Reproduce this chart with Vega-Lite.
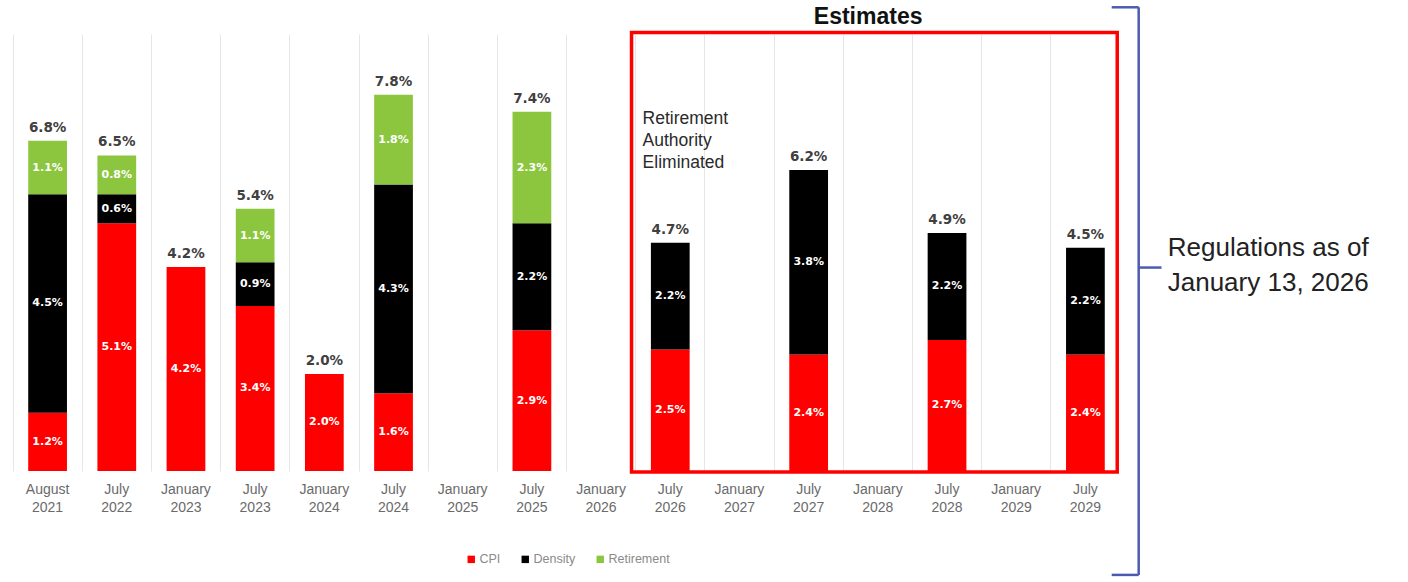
{
  "$schema": "https://vega.github.io/schema/vega-lite/v6.json",
  "autosize": {"type": "none"},
  "width": 1107,
  "height": 437,
  "padding": {"left": 13, "top": 34, "right": 288, "bottom": 111},
  "background": "white",
  "config": {"view": {"stroke": null}, "font": "Liberation Sans"},
  "datasets": {
    "bars": [
      {"period": "August 2021", "series": "CPI", "value": 1.2, "label": "1.2%", "ord": 1},
      {"period": "August 2021", "series": "Density", "value": 4.5, "label": "4.5%", "ord": 2},
      {"period": "August 2021", "series": "Retirement", "value": 1.1, "label": "1.1%", "ord": 3},
      {"period": "July 2022", "series": "CPI", "value": 5.1, "label": "5.1%", "ord": 1},
      {"period": "July 2022", "series": "Density", "value": 0.6, "label": "0.6%", "ord": 2},
      {"period": "July 2022", "series": "Retirement", "value": 0.8, "label": "0.8%", "ord": 3},
      {"period": "January 2023", "series": "CPI", "value": 4.2, "label": "4.2%", "ord": 1},
      {"period": "July 2023", "series": "CPI", "value": 3.4, "label": "3.4%", "ord": 1},
      {"period": "July 2023", "series": "Density", "value": 0.9, "label": "0.9%", "ord": 2},
      {"period": "July 2023", "series": "Retirement", "value": 1.1, "label": "1.1%", "ord": 3},
      {"period": "January 2024", "series": "CPI", "value": 2.0, "label": "2.0%", "ord": 1},
      {"period": "July 2024", "series": "CPI", "value": 1.6, "label": "1.6%", "ord": 1},
      {"period": "July 2024", "series": "Density", "value": 4.3, "label": "4.3%", "ord": 2},
      {"period": "July 2024", "series": "Retirement", "value": 1.85, "label": "1.8%", "ord": 3},
      {"period": "July 2025", "series": "CPI", "value": 2.9, "label": "2.9%", "ord": 1},
      {"period": "July 2025", "series": "Density", "value": 2.2, "label": "2.2%", "ord": 2},
      {"period": "July 2025", "series": "Retirement", "value": 2.3, "label": "2.3%", "ord": 3},
      {"period": "July 2026", "series": "CPI", "value": 2.5, "label": "2.5%", "ord": 1},
      {"period": "July 2026", "series": "Density", "value": 2.2, "label": "2.2%", "ord": 2},
      {"period": "July 2027", "series": "CPI", "value": 2.4, "label": "2.4%", "ord": 1},
      {"period": "July 2027", "series": "Density", "value": 3.8, "label": "3.8%", "ord": 2},
      {"period": "July 2028", "series": "CPI", "value": 2.7, "label": "2.7%", "ord": 1},
      {"period": "July 2028", "series": "Density", "value": 2.2, "label": "2.2%", "ord": 2},
      {"period": "July 2029", "series": "CPI", "value": 2.4, "label": "2.4%", "ord": 1},
      {"period": "July 2029", "series": "Density", "value": 2.2, "label": "2.2%", "ord": 2}
    ],
    "totals": [
      {"period": "August 2021", "total": 6.8, "label": "6.8%"},
      {"period": "July 2022", "total": 6.5, "label": "6.5%"},
      {"period": "January 2023", "total": 4.2, "label": "4.2%"},
      {"period": "July 2023", "total": 5.4, "label": "5.4%"},
      {"period": "January 2024", "total": 2.0, "label": "2.0%"},
      {"period": "July 2024", "total": 7.75, "label": "7.8%"},
      {"period": "July 2025", "total": 7.4, "label": "7.4%"},
      {"period": "July 2026", "total": 4.7, "label": "4.7%"},
      {"period": "July 2027", "total": 6.2, "label": "6.2%"},
      {"period": "July 2028", "total": 4.9, "label": "4.9%"},
      {"period": "July 2029", "total": 4.6, "label": "4.5%"}
    ]
  },
  "resolve": {"scale": {"x": "independent"}},
  "layer": [
    {
      "data": {"name": "bars"},
      "transform": [
        {"stack": "value", "groupby": ["period"], "sort": [{"field": "ord", "order": "ascending"}], "as": ["v0", "v1"]},
        {"calculate": "(datum.v0 + datum.v1) / 2", "as": "labelY"}
      ],
      "encoding": {
        "x": {
          "field": "period", "type": "nominal", "title": null,
          "scale": {
            "domain": ["August 2021", "July 2022", "January 2023", "July 2023", "January 2024", "July 2024", "January 2025", "July 2025", "January 2026", "July 2026", "January 2027", "July 2027", "January 2028", "July 2028", "January 2029", "July 2029"],
            "paddingInner": 0.44, "paddingOuter": 0.22
          },
          "axis": {
            "labelAngle": 0, "labelExpr": "split(datum.label, ' ')", "labelFontSize": 14,
            "labelColor": "#6a6a6a", "labelPadding": 11, "labelLineHeight": 18, "labelBaseline": "top",
            "ticks": false, "domain": false, "grid": true, "gridColor": "#e6e6e6", "gridWidth": 1,
            "bandPosition": -0.39
          }
        }
      },
      "layer": [
        {
          "mark": {"type": "bar"},
          "encoding": {
            "y": {"field": "v1", "type": "quantitative", "scale": {"domain": [0, 9], "nice": false, "zero": true}, "axis": null},
            "y2": {"field": "v0"},
            "color": {
              "field": "series", "type": "nominal",
              "scale": {"domain": ["CPI", "Density", "Retirement"], "range": ["#ff0000", "#000000", "#8cc63f"]},
              "legend": {
                "orient": "none", "legendX": 452, "legendY": 519, "direction": "horizontal", "title": null,
                "symbolType": "square", "symbolSize": 55, "symbolStrokeWidth": 0, "labelFontSize": 12.5, "labelColor": "#8a8a8a",
                "columnPadding": 18, "labelOffset": 2
              }
            }
          }
        },
        {
          "mark": {"type": "text", "color": "white", "font": "DejaVu Sans", "fontWeight": "bold", "fontSize": 11, "baseline": "middle"},
          "encoding": {
            "y": {"field": "labelY", "type": "quantitative"},
            "text": {"field": "label"}
          }
        }
      ]
    },
    {
      "data": {"name": "totals"},
      "mark": {"type": "text", "color": "#404040", "font": "DejaVu Sans", "fontWeight": "bold", "fontSize": 13.5, "baseline": "bottom", "dy": -6},
      "encoding": {
        "x": {"field": "period", "type": "nominal", "title": null, "axis": null,
          "scale": {
            "domain": ["August 2021", "July 2022", "January 2023", "July 2023", "January 2024", "July 2024", "January 2025", "July 2025", "January 2026", "July 2026", "January 2027", "July 2027", "January 2028", "July 2028", "January 2029", "July 2029"],
            "paddingInner": 0.44, "paddingOuter": 0.22
          }
        },
        "y": {"field": "total", "type": "quantitative"},
        "text": {"field": "label"}
      }
    },
    {
      "data": {"values": [{}]},
      "encoding": {},
      "layer": [
        {
          "mark": {"type": "rect", "fill": null, "fillOpacity": 0, "stroke": "#ff0000", "strokeWidth": 3.5},
          "encoding": {
            "x": {"datum": 8.94, "type": "quantitative", "scale": {"domain": [0, 16], "nice": false, "zero": false}, "axis": null},
            "x2": {"datum": 15.96},
            "y": {"datum": 9.03, "type": "quantitative"},
            "y2": {"datum": -0.02}
          }
        },
        {
          "mark": {"type": "text", "text": "Estimates", "font": "Liberation Sans", "fontWeight": "bold", "fontSize": 23, "color": "#111111", "baseline": "middle", "align": "center"},
          "encoding": {"x": {"datum": 12.36, "type": "quantitative"}, "y": {"datum": 9.35, "type": "quantitative"}}
        },
        {
          "mark": {"type": "text", "text": ["Retirement", "Authority", "Eliminated"], "font": "Liberation Sans", "fontSize": 17.5, "color": "#2a2a2a", "baseline": "middle", "align": "left", "lineHeight": 22},
          "encoding": {"x": {"datum": 9.1, "type": "quantitative"}, "y": {"datum": 7.24, "type": "quantitative"}}
        },
        {
          "mark": {"type": "text", "text": ["Regulations as of", "January 13, 2026"], "font": "Liberation Sans", "fontSize": 26, "color": "#222222", "baseline": "middle", "align": "left", "lineHeight": 35},
          "encoding": {"x": {"datum": 16.69, "type": "quantitative"}, "y": {"datum": 4.6, "type": "quantitative"}}
        },
        {
          "mark": {"type": "rule", "color": "#4b5bb0", "strokeWidth": 2.5},
          "encoding": {"x": {"datum": 15.88, "type": "quantitative"}, "x2": {"datum": 16.27}, "y": {"datum": 9.55, "type": "quantitative"}}
        },
        {
          "mark": {"type": "rule", "color": "#4b5bb0", "strokeWidth": 2.5},
          "encoding": {"x": {"datum": 15.88, "type": "quantitative"}, "x2": {"datum": 16.27}, "y": {"datum": -2.14, "type": "quantitative"}}
        },
        {
          "mark": {"type": "rule", "color": "#4b5bb0", "strokeWidth": 2.5},
          "encoding": {"x": {"datum": 16.27, "type": "quantitative"}, "y": {"datum": 9.55, "type": "quantitative"}, "y2": {"datum": -2.14}}
        },
        {
          "mark": {"type": "rule", "color": "#4b5bb0", "strokeWidth": 2.5},
          "encoding": {"x": {"datum": 16.27, "type": "quantitative"}, "x2": {"datum": 16.6}, "y": {"datum": 4.19, "type": "quantitative"}}
        }
      ]
    }
  ]
}
